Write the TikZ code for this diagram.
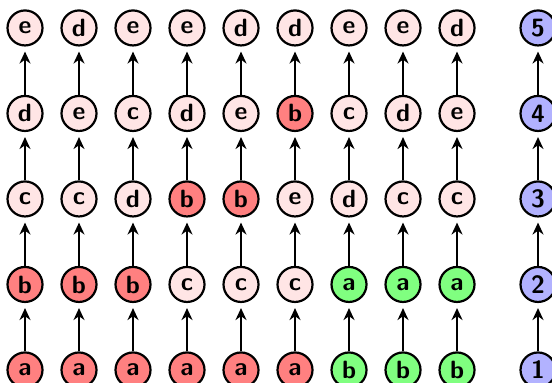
\documentclass[tikz,border=0pt]{standalone}
\usetikzlibrary{arrows.meta, positioning}
\definecolor{hotred}{rgb}{1,0.5,0.5}
\definecolor{keygreen}{rgb}{0.5,1,0.5}
\definecolor{palered}{rgb}{1,0.9,0.9}
\definecolor{rankblue}{rgb}{0.7,0.7,1}
\newcommand{\link}[2]
{
	\draw[-{Stealth[length=6pt,width=5.5pt]}, line width=1.4pt, shorten >=2.5pt] (#1.north) -- (#2.south)
}

\begin{document}
\begin{tikzpicture}[x=27pt, y=42.75pt, every node/.append style={shape=circle, draw=black, line width=1.1pt, minimum size=17.5pt, inner sep=0pt, font=\fontsize{12.5}{14}\sffamily\bfseries},
	tint a/.style={fill=\c}, tint b/.style={fill=\c},
	tint c/.style={fill=palered}, tint d/.style={fill=palered}, tint e/.style={fill=palered}]
	\useasboundingbox (0.537,-0.152) rectangle (10.759,4.327);
		% one column per order, bottom to top; a and b carry the column colour
		\foreach \x/\p/\q/\r/\s/\t/\c in {1/a/b/c/d/e/hotred, 2/a/b/c/e/d/hotred, 3/a/b/d/c/e/hotred, 4/a/c/b/d/e/hotred, 5/a/c/b/e/d/hotred, 6/a/c/e/b/d/hotred, 7/b/a/d/c/e/keygreen, 8/b/a/c/d/e/keygreen, 9/b/a/c/e/d/keygreen} {
			\node[tint \p] at (\x, 0) (n\x-1) {\p};
			\node[tint \q] at (\x, 1) (n\x-2) {\q};
			\node[tint \r] at (\x, 2) (n\x-3) {\r};
			\node[tint \s] at (\x, 3) (n\x-4) {\s};
			\node[tint \t] at (\x, 4) (n\x-5) {\t};
			\foreach \k in {1,...,4} {
				\pgfmathtruncatemacro{\j}{\k+1};
				\link{n\x-\k}{n\x-\j};
			};
		};
		% ranks
		\foreach \k in {1,...,5}
			\node[fill = rankblue] at (10.5, \k-1) (r\k) {\k};
		\foreach \k in {1,...,4} {
			\pgfmathtruncatemacro{\j}{\k+1};
			\link{r\k}{r\j};
		};
\end{tikzpicture}
\end{document}
